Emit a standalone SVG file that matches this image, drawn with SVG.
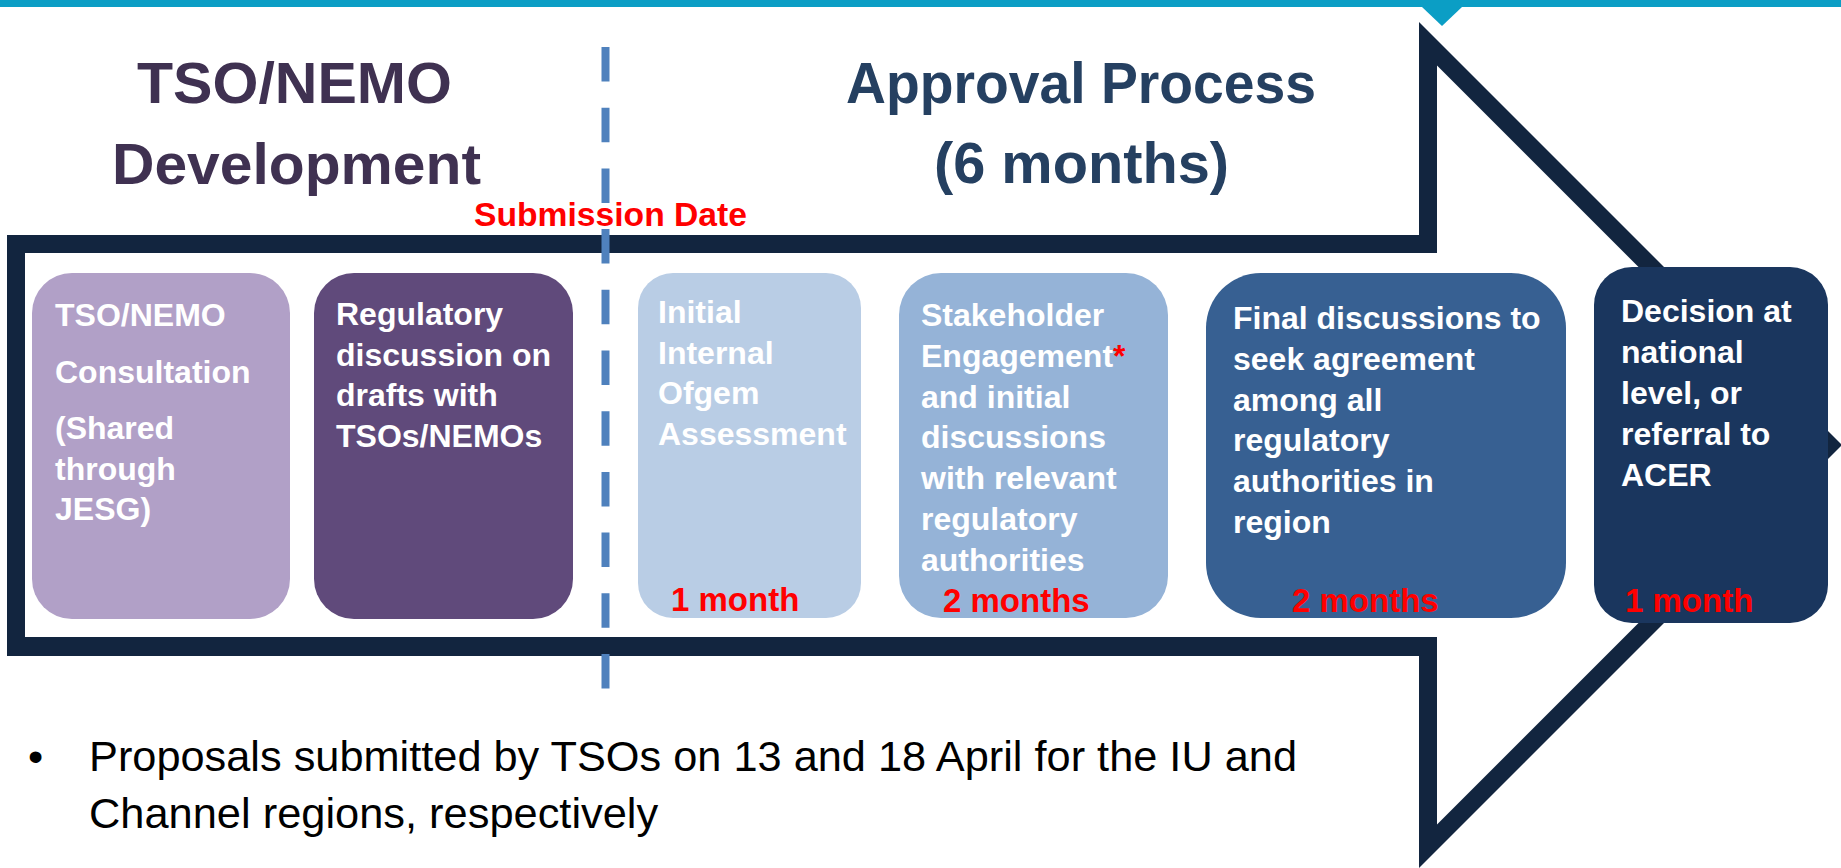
<svg xmlns="http://www.w3.org/2000/svg" width="1841" height="868" viewBox="0 0 1841 868">
<style>
  text { font-family: "Liberation Sans", Arial, sans-serif; }
  .h { font-weight: bold; font-size: 57px; text-anchor: middle; }
  .hp { fill: #3f3151; }
  .hb { fill: #254061; }
  .bt { font-weight: bold; font-size: 32px; fill: #ffffff; }
  .red { font-weight: bold; font-size: 33px; fill: #ff0000; }
  .bul { font-size: 43.4px; fill: #000000; }
</style>
<rect x="0" y="0" width="1841" height="868" fill="#ffffff"/>
<g id="top-bar">
  <rect x="0" y="0" width="1841" height="7" fill="#0b9ec5"/>
  <polygon points="1422,7 1462,7 1442,26" fill="#0b9ec5"/>
</g>
<g id="arrow-frame">
  <path fill="#12253f" fill-rule="evenodd" d="M7,235 H1419 V22 L1842,445 L1419,868 V656 H7 Z M25,253 V637 H1437 V824.5 L1816.5,445 L1437,65.5 V253 Z"/>
</g>
<g id="heading-development">
  <text class="h hp" x="294.5" y="103" textLength="315" lengthAdjust="spacingAndGlyphs">TSO/NEMO</text>
  <text class="h hp" x="296.5" y="184" textLength="369" lengthAdjust="spacingAndGlyphs">Development</text>
</g>
<g id="heading-approval">
  <text class="h hb" x="1081" y="103" textLength="470" lengthAdjust="spacingAndGlyphs">Approval Process</text>
  <text class="h hb" x="1081.5" y="183" textLength="295" lengthAdjust="spacingAndGlyphs">(6 months)</text>
</g>
<g id="box-consultation">
  <rect x="32" y="273" width="258" height="346" rx="40" fill="#b1a0c7"/>
  <text class="bt" x="55" y="326">TSO/NEMO</text>
  <text class="bt" x="55" y="383">Consultation</text>
  <text class="bt" x="55" y="439">(Shared</text>
  <text class="bt" x="55" y="479.5">through</text>
  <text class="bt" x="55" y="520">JESG)</text>
</g>
<g id="box-regulatory-discussion">
  <rect x="314" y="273" width="259" height="346" rx="40" fill="#604a7b"/>
  <text class="bt" x="336" y="325">Regulatory</text>
  <text class="bt" x="336" y="365.5">discussion on</text>
  <text class="bt" x="336" y="406">drafts with</text>
  <text class="bt" x="336" y="446.5">TSOs/NEMOs</text>
</g>
<g id="box-initial-assessment">
  <rect x="638" y="273" width="223" height="345" rx="35" fill="#b9cde5"/>
  <text class="bt" x="658" y="323">Initial</text>
  <text class="bt" x="658" y="363.5">Internal</text>
  <text class="bt" x="658" y="404">Ofgem</text>
  <text class="bt" x="658" y="444.5">Assessment</text>
  <text class="red" x="671" y="611">1 month</text>
</g>
<g id="box-stakeholder-engagement">
  <rect x="899" y="273" width="269" height="345" rx="42" fill="#95b3d7"/>
  <text class="bt" x="921" y="326">Stakeholder</text>
  <text class="bt" x="921" y="366.8">Engagement<tspan fill="#ff0000">*</tspan></text>
  <text class="bt" x="921" y="407.6">and initial</text>
  <text class="bt" x="921" y="448.4">discussions</text>
  <text class="bt" x="921" y="489.2">with relevant</text>
  <text class="bt" x="921" y="530">regulatory</text>
  <text class="bt" x="921" y="570.8">authorities</text>
  <text class="red" x="943" y="612">2 months</text>
</g>
<g id="box-final-discussions">
  <rect x="1206" y="273" width="360" height="345" rx="55" fill="#376092"/>
  <text class="bt" x="1233" y="329">Final discussions to</text>
  <text class="bt" x="1233" y="369.8">seek agreement</text>
  <text class="bt" x="1233" y="410.6">among all</text>
  <text class="bt" x="1233" y="451.4">regulatory</text>
  <text class="bt" x="1233" y="492.2">authorities in</text>
  <text class="bt" x="1233" y="533">region</text>
  <text class="red" x="1292" y="612">2 months</text>
</g>
<g id="box-decision">
  <rect x="1594" y="267" width="234" height="356" rx="38" fill="#1a365e"/>
  <text class="bt" x="1621" y="321.7">Decision at</text>
  <text class="bt" x="1621" y="362.5">national</text>
  <text class="bt" x="1621" y="403.5">level, or</text>
  <text class="bt" x="1621" y="444.5">referral to</text>
  <text class="bt" x="1621" y="485.5">ACER</text>
  <text class="red" x="1625" y="612">1 month</text>
</g>
<g id="connectors">
  <line x1="605.5" y1="47" x2="605.5" y2="689" stroke="#4f81bd" stroke-width="8" stroke-dasharray="34.5 26.2"/>
</g>
<g id="submission-date">
  <text class="red" x="474" y="226" textLength="273" lengthAdjust="spacingAndGlyphs">Submission Date</text>
</g>
<g id="bullet-note">
  <text class="bul" x="28" y="771">•</text>
  <text class="bul" x="89" y="771" textLength="1208" lengthAdjust="spacingAndGlyphs">Proposals submitted by TSOs on 13 and 18 April for the IU and</text>
  <text class="bul" x="89" y="828">Channel regions, respectively</text>
</g>
</svg>
